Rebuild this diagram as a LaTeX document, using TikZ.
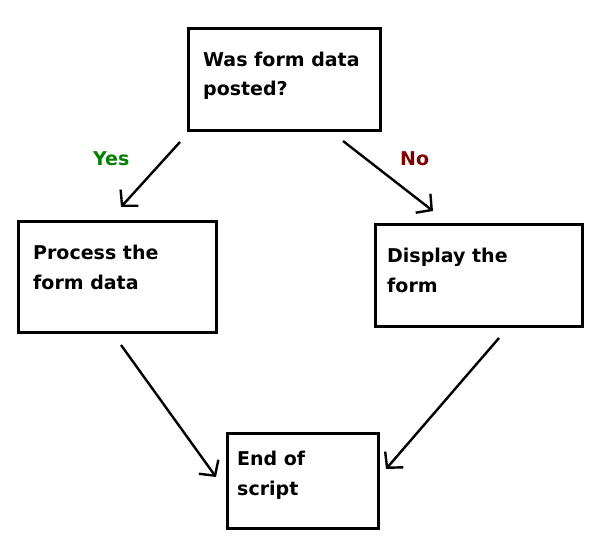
\documentclass[tikz,border=0pt]{standalone}
\usepackage{fontspec}
\setmainfont{DejaVu Sans}
\usetikzlibrary{arrows.meta}
\begin{document}
\begin{tikzpicture}[x=1pt,y=-1pt,
  box/.style={draw, line width=3pt, minimum width=#1, inner sep=0pt},
  txt/.style={anchor=base west, inner sep=0pt, font=\fontsize{19}{22}\selectfont\bfseries},
  conn/.style={line width=2.4pt, -{Straight Barb[length=11pt,width=24pt,line width=2.4pt]}}]
\useasboundingbox (0,0) rectangle (602,541);
% boxes
\node[box=192pt, minimum height=102pt] (q) at (284,79) {};
\node[box=198pt, minimum height=111pt] (p) at (117,276.5) {};
\node[box=207pt, minimum height=102pt] (d) at (478.5,275) {};
\node[box=151pt, minimum height=95pt] (e) at (302.5,480.5) {};
% texts
\node[txt] (q1) at (203,66) {Was form data};
\node[txt] (q2) at (203,95) {posted?};
\node[txt] (p1) at (33,259) {Process the};
\node[txt] (p2) at (33,289) {form data};
\node[txt] (d1) at (387,262) {Display the};
\node[txt] (d2) at (387,292) {form};
\node[txt] (e1) at (237,465) {End of};
\node[txt] (e2) at (237,495) {script};
\node[txt, text={rgb,255:red,0;green,128;blue,0}] (yes) at (93,165) {Yes};
\node[txt, text={rgb,255:red,128;green,0;blue,0}] (no) at (400,165) {No};
% connector end points
\coordinate (a1) at (180,142); \coordinate (a2) at (121,207);
\coordinate (b1) at (343,141); \coordinate (b2) at (433,211);
\coordinate (c1) at (121,345); \coordinate (c2) at (216,477);
\coordinate (d1s) at (499,338); \coordinate (d2e) at (386,469);
\draw[conn] (a1) -- (a2);
\draw[conn] (b1) -- (b2);
\draw[conn] (c1) -- (c2);
\draw[conn] (d1s) -- (d2e);
\end{tikzpicture}
\end{document}
